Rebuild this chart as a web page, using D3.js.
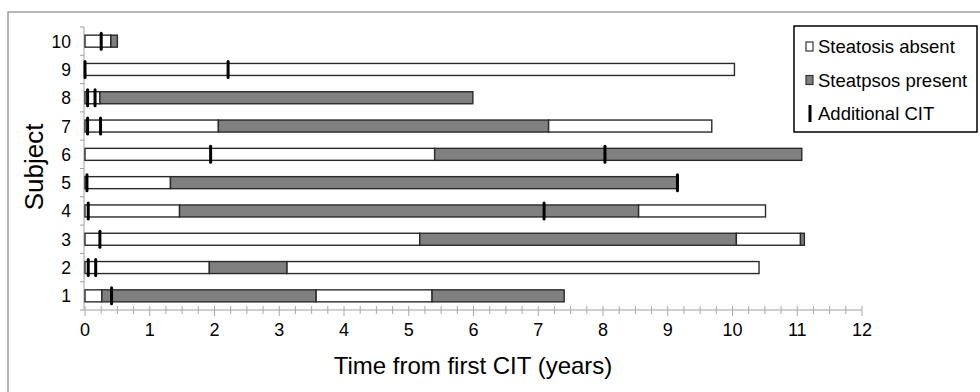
<!DOCTYPE html>
<html>
<head>
<meta charset="utf-8">
<script src="https://cdn.jsdelivr.net/npm/d3@7"></script>
<style>
    body { margin: 0; background: #fff; }
    svg { display: block; font-family: "Liberation Sans", Arial, sans-serif; }
</style>
</head>
<body>
<div id="chart"></div>
<script>
// subjects, bottom to top
const subjects = ["1", "2", "3", "4", "5", "6", "7", "8", "9", "10"];

// period boundaries (years from first CIT); periods alternate absent / present starting with absent
const periodBounds = [
    [0, 0.26, 3.57, 5.36, 7.40],
    [0, 1.92, 3.12, 10.41],
    [0, 5.17, 10.06, 11.05, 11.11],
    [0, 1.46, 8.55, 10.51],
    [0, 1.32, 9.15],
    [0, 5.40, 11.07],
    [0, 2.06, 7.16, 9.68],
    [0, 0.23, 5.99],
    [0, 10.03],
    [0, 0.40, 0.50]
];
const periodStates = ["absent", "present"];

// additional CIT times per subject
const citTimes = [
    [0.41],
    [0.05, 0.165],
    [0.23],
    [0.05, 7.09],
    [0.03, 9.15],
    [1.94, 8.03],
    [0.04, 0.24],
    [0.04, 0.155],
    [0.0, 2.21],
    [0.25]
];

const xTicks = d3.range(0, 13, 1);
const xMinorTicks = d3.range(0, 12.01, 0.25);

const legendItems = [
    { key: "absent", label: "Steatosis absent" },
    { key: "present", label: "Steatpsos present" },
    { key: "cit", label: "Additional CIT" }
];

const fills = { absent: "#ffffff", present: "#808080" };

const width = 980, height = 392;
const x = d3.scaleLinear().domain([0, 12]).range([85, 862]);
const y = d3.scaleBand().domain(subjects.slice().reverse()).range([27, 310]).paddingInner(0);
const barH = 12;

const svg = d3.select("#chart").append("svg")
    .attr("width", width)
    .attr("height", height);

// outer frame
svg.append("rect")
    .attr("x", 8).attr("y", 12)
    .attr("width", 1000).attr("height", 500)
    .attr("fill", "none")
    .attr("stroke", "#a0a0a0")
    .attr("stroke-width", 1.5);

// y axis
const yAxis = svg.append("g");
yAxis.append("line")
    .attr("x1", 84).attr("x2", 84)
    .attr("y1", y.range()[0]).attr("y2", y.range()[1])
    .attr("stroke", "#a0a0a0");
const yEdges = subjects.map(s => y(s)).concat([y.range()[1]]);
yAxis.selectAll(".ytick")
    .data(yEdges)
    .join("line")
    .attr("class", "ytick")
    .attr("x1", 80).attr("x2", 84)
    .attr("y1", d => d).attr("y2", d => d)
    .attr("stroke", "#a0a0a0");
yAxis.selectAll(".ylabel")
    .data(subjects)
    .join("text")
    .attr("class", "ylabel")
    .attr("x", 71)
    .attr("y", d => y(d) + y.bandwidth() / 2 + 6.5)
    .attr("text-anchor", "end")
    .attr("font-size", 17.5)
    .text(d => d);

// x axis
const xAxisY = 310;
const xAxis = svg.append("g");
xAxis.append("line")
    .attr("x1", x(0)).attr("x2", x(12))
    .attr("y1", xAxisY).attr("y2", xAxisY)
    .attr("stroke", "#a0a0a0");
xAxis.selectAll(".xminor")
    .data(xMinorTicks)
    .join("line")
    .attr("class", "xminor")
    .attr("x1", d => x(d)).attr("x2", d => x(d))
    .attr("y1", xAxisY - 4)
    .attr("y2", d => Number.isInteger(d) ? xAxisY + 6 : xAxisY + 4)
    .attr("stroke", "#a8a8a8");
xAxis.selectAll(".xlabel")
    .data(xTicks)
    .join("text")
    .attr("class", "xlabel")
    .attr("x", d => x(d))
    .attr("y", 336)
    .attr("text-anchor", "middle")
    .attr("font-size", 18)
    .text(d => d);

// axis titles
svg.append("text")
    .attr("x", 473).attr("y", 374)
    .attr("text-anchor", "middle")
    .attr("font-size", 24)
    .text("Time from first CIT (years)");
svg.append("text")
    .attr("transform", "translate(43,167) rotate(-90)")
    .attr("text-anchor", "middle")
    .attr("font-size", 26)
    .text("Subject");

// bars
const segments = [];
subjects.forEach((s, i) => {
    const b = periodBounds[i];
    for (let k = 0; k < b.length - 1; k++) {
        segments.push({ subject: s, start: b[k], end: b[k + 1], state: periodStates[k % 2] });
    }
});
svg.append("g").selectAll("rect")
    .data(segments)
    .join("rect")
    .attr("x", d => x(d.start))
    .attr("y", d => y(d.subject) + y.bandwidth() / 2 - barH / 2)
    .attr("width", d => x(d.end) - x(d.start))
    .attr("height", barH)
    .attr("fill", d => fills[d.state])
    .attr("stroke", "#2a2a2a")
    .attr("stroke-width", 1.4);

// CIT marks
const marks = [];
subjects.forEach((s, i) => citTimes[i].forEach(t => marks.push({ subject: s, t })));
svg.append("g").selectAll("line")
    .data(marks)
    .join("line")
    .attr("x1", d => x(d.t)).attr("x2", d => x(d.t))
    .attr("y1", d => y(d.subject) + y.bandwidth() / 2 - 8)
    .attr("y2", d => y(d.subject) + y.bandwidth() / 2 + 8)
    .attr("stroke", "#000")
    .attr("stroke-width", 3)
    .attr("stroke-linecap", "round");

// legend
const legend = svg.append("g");
legend.append("rect")
    .attr("x", 794).attr("y", 26)
    .attr("width", 183).attr("height", 106)
    .attr("fill", "#fff")
    .attr("stroke", "#000")
    .attr("stroke-width", 1.5);
const li = legend.selectAll(".item")
    .data(legendItems)
    .join("g")
    .attr("class", "item")
    .attr("transform", (d, i) => `translate(0,${53 + i * 33.5})`);
li.filter(d => d.key !== "cit").append("rect")
    .attr("x", 806).attr("y", -11)
    .attr("width", 7).attr("height", 9)
    .attr("fill", d => fills[d.key])
    .attr("stroke", "#333")
    .attr("stroke-width", 1.2);
li.filter(d => d.key === "cit").append("line")
    .attr("x1", 810).attr("x2", 810)
    .attr("y1", -15).attr("y2", 2)
    .attr("stroke", "#000")
    .attr("stroke-width", 3);
li.append("text")
    .attr("x", 818)
    .attr("y", 0)
    .attr("font-size", 18.5)
    .text(d => d.label);
</script>
</body>
</html>
